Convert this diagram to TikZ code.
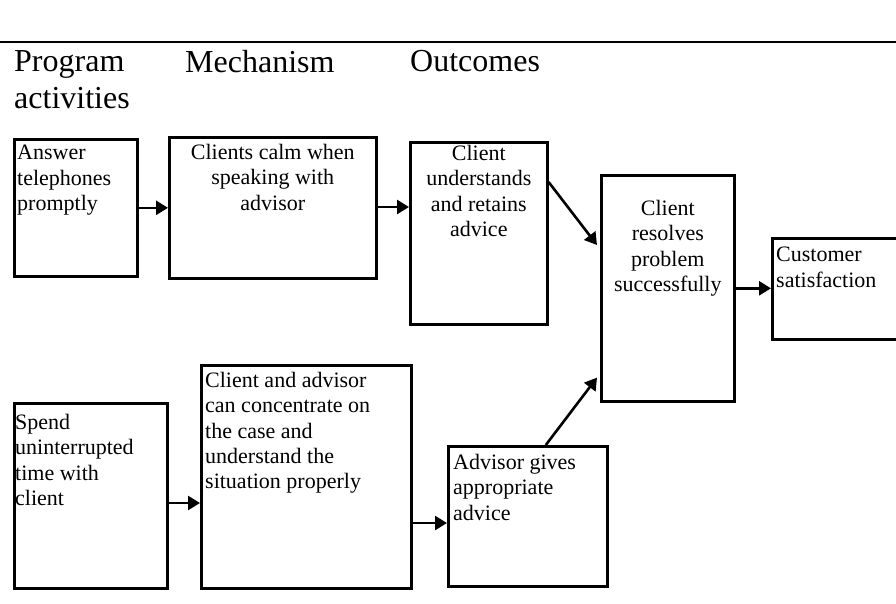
\documentclass[tikz,border=0pt]{standalone}
\usepackage{fontspec}
\setmainfont{Liberation Serif}
\usetikzlibrary{arrows.meta}
\begin{document}
\begin{tikzpicture}[x=1pt,y=-1pt,
  box/.style={draw, line width=2.6pt, inner sep=0pt, anchor=north west},
  txt/.style={inner sep=0pt, font=\fontsize{22}{25.3}\selectfont},
  lefttxt/.style={txt, align=left, anchor=north west},
  midtxt/.style={txt, align=center, anchor=north},
  head/.style={inner sep=0pt, anchor=north west, align=left, font=\fontsize{32}{37}\selectfont},
  link/.style={line width=2.6pt, -{Triangle[length=12pt,width=14pt]}}]
\useasboundingbox (0,0) rectangle (896,603);
\clip (0,0) rectangle (896,603);

% top rule and column headings
\coordinate (ruleL) at (0,42);
\coordinate (ruleR) at (896,42);
\draw[line width=2.8pt] (ruleL) -- (ruleR);
\node[head] (h1) at (14,50) {Program\\activities};
\node[head] (h2) at (185,50) {Mechanism};
\node[head] (h3) at (410,50) {Outcomes};

% boxes
\node[box, minimum width=123pt, minimum height=137pt] (b1) at (13,138) {};
\node[box, minimum width=207pt, minimum height=141pt] (b2) at (168,136) {};
\node[box, minimum width=137pt, minimum height=182pt] (b3) at (409,141) {};
\node[box, minimum width=133pt, minimum height=226pt] (b4) at (600,174) {};
\node[box, minimum width=150pt, minimum height=101pt] (b5) at (771,237) {};
\node[box, minimum width=153pt, minimum height=185pt] (b6) at (13,402) {};
\node[box, minimum width=210pt, minimum height=223pt] (b7) at (200,364) {};
\node[box, minimum width=159pt, minimum height=140pt] (b8) at (447,445) {};

% box texts
\node[lefttxt] (t1) at ([shift={(4,7)}]b1.north west) {Answer\\telephones\\promptly};
\node[midtxt] (t2) at ([shift={(0,8)}]b2.north) {Clients calm when\\speaking with\\advisor};
\node[midtxt] (t3) at ([shift={(0,4)}]b3.north) {Client\\understands\\and retains\\advice};
\node[midtxt] (t4) at ([shift={(0,26)}]b4.north) {Client\\resolves\\problem\\successfully};
\node[lefttxt] (t5) at ([shift={(5,10)}]b5.north west) {Customer\\satisfaction};
\node[lefttxt] (t6) at ([shift={(2,12)}]b6.north west) {Spend\\uninterrupted\\time with\\client};
\node[lefttxt] (t7) at ([shift={(5,8)}]b7.north west) {Client and advisor\\can concentrate on\\the case and\\understand the\\situation properly};
\node[lefttxt] (t8) at ([shift={(6,9)}]b8.north west) {Advisor gives\\appropriate\\advice};

% connectors
\draw[link] (b1.east) -- (b1.east -| b2.west);
\draw[link] ([shift={(0,71)}]b2.north east) -- ([shift={(0,71)}]b2.north east -| b3.west);
\draw[link] ([shift={(0,41)}]b3.north east) -- ([shift={(-3,71)}]b4.north west);
\draw[link] (b4.east) -- (b4.east -| b5.west);
\draw[link] ([shift={(0,101)}]b6.north east) -- ([shift={(0,101)}]b6.north east -| b7.west);
\draw[link] ([shift={(0,159)}]b7.north east) -- ([shift={(0,159)}]b7.north east -| b8.west);
\draw[link] ([shift={(18,0)}]b8.north) -- ([shift={(-3,-25)}]b4.south west);
\end{tikzpicture}
\end{document}
